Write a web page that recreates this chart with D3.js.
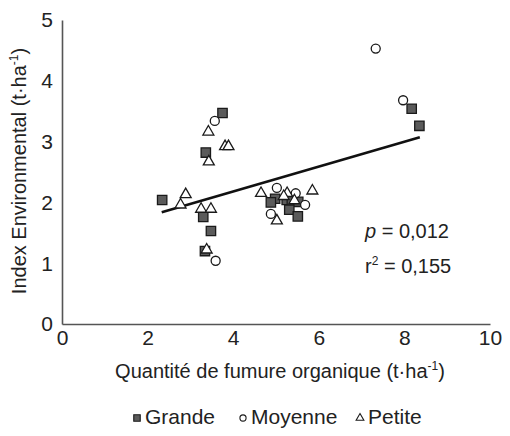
<!DOCTYPE html>
<html><head><meta charset="utf-8">
<script src="https://cdn.jsdelivr.net/npm/d3@7"></script>
<style>
body{margin:0;background:#fff;}
text{font-family:"Liberation Sans",Arial,Helvetica,sans-serif;fill:#222;}
</style></head>
<body><svg id="c" width="510" height="436"></svg>
<script>
// Data
const grandeX = [3.75,3.36,2.34,3.30,3.48,3.34,4.98,4.88,5.25,5.37,5.52,5.31,5.51,8.17,8.35];
const grandeY = [3.47,2.82,2.04,1.76,1.53,1.20,2.06,2.00,2.04,2.02,2.01,1.88,1.77,3.54,3.26];
const moyenneX = [3.57,3.59,5.02,5.46,5.68,4.88,7.33,7.97];
const moyenneY = [3.34,1.04,2.24,2.15,1.96,1.81,4.53,3.68];
const petiteX = [3.42,3.81,3.89,3.43,2.89,2.77,3.25,3.48,3.38,4.65,5.26,5.43,5.02,5.85,5.18];
const petiteY = [3.16,2.92,2.92,2.67,2.13,1.96,1.89,1.89,1.22,2.15,2.15,2.03,1.70,2.19,2.10];
const trendX = [2.33, 8.36];
const trendY = [1.84, 3.07];
const xTicks = [0,2,4,6,8,10];
const yTicks = [0,1,2,3,4,5];
const seriesNames = ["Grande","Moyenne","Petite"];
const statLabels = ["0,012","0,155"];

const svg = d3.select("#c");
const x = d3.scaleLinear().domain([0,10]).range([62,490]);
const y = d3.scaleLinear().domain([0,5]).range([324,20]);

// axes
const xa = svg.append("g").attr("transform","translate(0,324)")
  .call(d3.axisBottom(x).tickValues(xTicks).tickFormat(d3.format("d")).tickSize(0).tickPadding(5).tickSizeOuter(0));
const ya = svg.append("g").attr("transform","translate(62,0)")
  .call(d3.axisLeft(y).tickValues(yTicks).tickFormat(d3.format("d")).tickSize(0).tickPadding(9).tickSizeOuter(0));
[xa,ya].forEach(a=>{
  a.select(".domain").attr("stroke","#555").attr("stroke-width",1.6);
  a.selectAll("text").style("font-size","21px").attr("fill","#222");
});
ya.selectAll("text").attr("dy","0.33em");
xa.selectAll("text").attr("dy","0.76em");

// axis titles
const xt = svg.append("text").attr("x",280).attr("y",378).attr("text-anchor","middle").style("font-size","20px");
xt.append("tspan").text("Quantité de fumure organique (t·ha");
xt.append("tspan").attr("dy",-8).style("font-size","12px").text("-1");
xt.append("tspan").attr("dy",8).text(")");

const yt = svg.append("text").attr("transform","translate(26,171) rotate(-90)").attr("text-anchor","middle").style("font-size","20px");
yt.append("tspan").text("Index Environmental (t·ha");
yt.append("tspan").attr("dy",-8).style("font-size","12px").text("-1");
yt.append("tspan").attr("dy",8).text(")");

// trend line
svg.append("line")
  .attr("x1",x(trendX[0])).attr("y1",y(trendY[0]))
  .attr("x2",x(trendX[1])).attr("y2",y(trendY[1]))
  .attr("stroke","#111").attr("stroke-width",2.6);

// markers
const sym = {
  Grande: d3.symbol().type(d3.symbolSquare).size(88),
  Moyenne: d3.symbol().type(d3.symbolCircle).size(64),
  Petite: d3.symbol().type(d3.symbolTriangle).size(52)
};
function style(sel,name){
  sel.attr("fill", name==="Grande" ? "#5b5b5b" : "#fff")
     .attr("stroke","#1a1a1a").attr("stroke-width",1.3);
}
const sets = [
  {name:"Grande", xs:grandeX, ys:grandeY},
  {name:"Moyenne", xs:moyenneX, ys:moyenneY},
  {name:"Petite", xs:petiteX, ys:petiteY}
];
sets.forEach(s=>{
  const pts = s.xs.map((v,i)=>[v,s.ys[i]]);
  svg.append("g").selectAll("path").data(pts).join("path")
    .attr("d", sym[s.name])
    .attr("transform", d=>`translate(${x(d[0])},${y(d[1])})`)
    .call(style, s.name);
});

// stats
const p = svg.append("text").attr("x",365).attr("y",238).style("font-size","20px");
p.append("tspan").style("font-style","italic").text("p");
p.append("tspan").text(" = " + statLabels[0]);
const r = svg.append("text").attr("x",365).attr("y",273).style("font-size","20px");
r.append("tspan").text("r");
r.append("tspan").attr("dy",-8).style("font-size","12px").text("2");
r.append("tspan").attr("dy",8).text(" = " + statLabels[1]);

// legend
const legX = [137, 243, 360];
const legSym = {
  Grande: d3.symbol().type(d3.symbolSquare).size(42),
  Moyenne: d3.symbol().type(d3.symbolCircle).size(30),
  Petite: d3.symbol().type(d3.symbolTriangle).size(26)
};
seriesNames.forEach((n,i)=>{
  svg.append("path").attr("d",legSym[n]).attr("transform",`translate(${legX[i]},418)`)
    .attr("fill", n==="Grande" ? "#5b5b5b" : "#fff").attr("stroke","#1a1a1a").attr("stroke-width",1.1);
  svg.append("text").attr("x",legX[i]+8).attr("y",424).style("font-size","21px").text(n);
});
</script></body></html>
